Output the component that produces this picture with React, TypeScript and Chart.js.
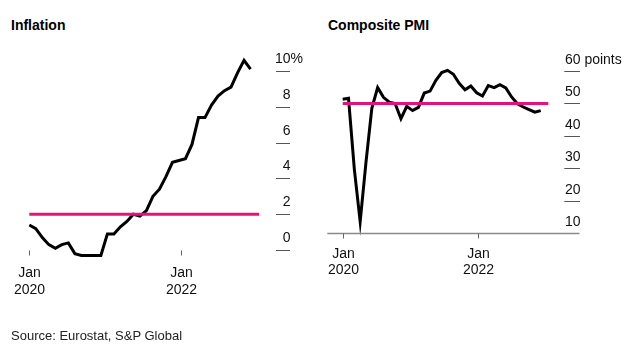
import React, { useEffect, useRef } from "react";
import { Chart, registerables } from "chart.js";

Chart.register(...registerables);

// ---- Data (monthly, Jan 2020 – Nov 2022) ----
const MONTHS = [
  "2020-01", "2020-02", "2020-03", "2020-04", "2020-05", "2020-06",
  "2020-07", "2020-08", "2020-09", "2020-10", "2020-11", "2020-12",
  "2021-01", "2021-02", "2021-03", "2021-04", "2021-05", "2021-06",
  "2021-07", "2021-08", "2021-09", "2021-10", "2021-11", "2021-12",
  "2022-01", "2022-02", "2022-03", "2022-04", "2022-05", "2022-06",
  "2022-07", "2022-08", "2022-09", "2022-10", "2022-11",
];

const INFLATION = [
  1.4, 1.2, 0.7, 0.3, 0.1, 0.3, 0.4, -0.2, -0.3, -0.3, -0.3, -0.3,
  0.9, 0.9, 1.3, 1.6, 2.0, 1.9, 2.2, 3.0, 3.4, 4.1, 4.9, 5.0,
  5.1, 5.9, 7.4, 7.4, 8.1, 8.6, 8.9, 9.1, 9.9, 10.6, 10.1,
];

const PMI = [
  51.3, 51.6, 29.7, 13.6, 31.9, 48.5, 54.9, 51.9, 50.4, 50.0, 45.3, 49.1,
  47.8, 48.8, 53.2, 53.8, 57.1, 59.5, 60.2, 59.0, 56.2, 54.2, 55.4, 53.3,
  52.3, 55.5, 54.9, 55.8, 54.8, 52.0, 49.9, 48.9, 48.1, 47.3, 47.8,
];

const INFLATION_TARGET = 2;
const PMI_THRESHOLD = 50;

const INFLATION_TICKS = [0, 2, 4, 6, 8, 10];
const PMI_TICKS = [10, 20, 30, 40, 50, 60];

const X_TICK_LABELS = [["Jan", "2020"], ["Jan", "2022"]];
const X_TICK_POSITIONS = [0, 23.25];
const X_MAX = 35.3;

const FONT = '"Liberation Sans", Arial, Helvetica, sans-serif';
const PINK = "#e4127f";
const INK = "#111111";

type AxesOpts = {
  yTicks: number[];
  suffix: string;
  tickX0: number;
  tickX1: number;
  labelRight: number;
  labelAbove: number;
  skipMarkAt?: number;
  baseValue: number;
  axisLine?: [number, number];
  xLabelBaselines: [number, number];
};

const customAxes = {
  id: "customAxes",
  afterDraw(chart: any, _args: any, opts: AxesOpts) {
    const { ctx } = chart;
    const xs = chart.scales.x;
    const ys = chart.scales.y;
    ctx.save();
    ctx.font = `14px ${FONT}`;
    ctx.textBaseline = "alphabetic";

    // y ticks: short marks with labels sitting above them
    const topTick = opts.yTicks[opts.yTicks.length - 1];
    opts.yTicks.forEach((v) => {
      const py = Math.round(ys.getPixelForValue(v)) + 0.5;
      if (opts.skipMarkAt !== v) {
        ctx.strokeStyle = "#555";
        ctx.lineWidth = 1;
        ctx.beginPath();
        ctx.moveTo(opts.tickX0, py);
        ctx.lineTo(opts.tickX1, py);
        ctx.stroke();
      }
      ctx.fillStyle = INK;
      ctx.textAlign = "right";
      ctx.fillText(String(v), opts.labelRight, py - opts.labelAbove);
      if (v === topTick && opts.suffix) {
        ctx.textAlign = "left";
        ctx.fillText(opts.suffix, opts.labelRight, py - opts.labelAbove);
      }
    });

    const baseY = Math.round(ys.getPixelForValue(opts.baseValue)) + 0.5;

    if (opts.axisLine) {
      ctx.strokeStyle = "#8a8a8a";
      ctx.lineWidth = 1.5;
      ctx.beginPath();
      ctx.moveTo(opts.axisLine[0], baseY);
      ctx.lineTo(opts.axisLine[1], baseY);
      ctx.stroke();
    }

    X_TICK_POSITIONS.forEach((pos, i) => {
      const px = Math.round(xs.getPixelForValue(pos)) + 0.5;
      ctx.strokeStyle = "#666";
      ctx.lineWidth = 1;
      ctx.beginPath();
      ctx.moveTo(px, baseY);
      ctx.lineTo(px, baseY + 5);
      ctx.stroke();
      ctx.fillStyle = INK;
      ctx.textAlign = "center";
      const [l1, l2] = X_TICK_LABELS[i];
      ctx.fillText(l1, px, baseY + opts.xLabelBaselines[0]);
      ctx.fillText(l2, px, baseY + opts.xLabelBaselines[1]);
    });
    ctx.restore();
  },
};

type PanelSpec = {
  values: number[];
  refValue: number;
  yMin: number;
  yMax: number;
  padding: { left: number; right: number; top: number; bottom: number };
  axes: AxesOpts;
};

function Panel({ left, width, spec }: { left: number; width: number; spec: PanelSpec }) {
  const ref = useRef<HTMLCanvasElement>(null);
  useEffect(() => {
    const series = spec.values.map((v, i) => ({ x: i, y: v }));
    const refLine = [
      { x: 0, y: spec.refValue },
      { x: X_MAX, y: spec.refValue },
    ];
    const chart = new Chart(ref.current!, {
      type: "line",
      data: {
        labels: MONTHS,
        datasets: [
          {
            data: refLine,
            borderColor: PINK,
            borderWidth: 3,
            pointRadius: 0,
            fill: false,
            clip: false,
          } as any,
          {
            data: series,
            borderColor: "#000",
            borderWidth: 3,
            pointRadius: 0,
            tension: 0,
            fill: false,
            clip: false,
          } as any,
        ],
      },
      options: {
        responsive: false,
        animation: false,
        devicePixelRatio: 1,
        layout: { padding: spec.padding },
        plugins: {
          legend: { display: false },
          tooltip: { enabled: false },
          title: { display: false },
          customAxes: spec.axes,
        } as any,
        scales: {
          x: { type: "linear", min: 0, max: X_MAX, display: false },
          y: { type: "linear", min: spec.yMin, max: spec.yMax, display: false },
        },
      },
      plugins: [customAxes as any],
    });
    return () => chart.destroy();
  }, []);
  return (
    <canvas
      ref={ref}
      width={width}
      height={351}
      style={{ position: "absolute", left, top: 0, width, height: 351 }}
    />
  );
}

const inflationSpec: PanelSpec = {
  values: INFLATION,
  refValue: INFLATION_TARGET,
  yMin: -0.5,
  yMax: 10.8,
  padding: { left: 29.3, right: 59, top: 56.7, bottom: 92 },
  axes: {
    yTicks: INFLATION_TICKS,
    suffix: "%",
    tickX0: 276,
    tickX1: 290,
    labelRight: 290.5,
    labelAbove: 9,
    baseValue: 0,
    xLabelBaselines: [26, 43],
  },
};

const pmiSpec: PanelSpec = {
  values: PMI,
  refValue: PMI_THRESHOLD,
  yMin: 10,
  yMax: 62,
  padding: { left: 24.7, right: 87.7, top: 64.5, bottom: 117.7 },
  axes: {
    yTicks: PMI_TICKS,
    suffix: " points",
    tickX0: 246.3,
    tickX1: 262,
    labelRight: 262.5,
    labelAbove: 8,
    skipMarkAt: 10,
    baseValue: 10,
    axisLine: [9.3, 261.5],
    xLabelBaselines: [24, 40],
  },
};

export default function App() {
  return (
    <div
      style={{
        position: "fixed",
        left: 0,
        top: 0,
        width: 636,
        height: 351,
        background: "#fff",
        overflow: "hidden",
        fontFamily: FONT,
      }}
    >
      <div
        style={{
          position: "absolute",
          left: 11,
          top: 17,
          fontSize: 14,
          lineHeight: "16px",
          fontWeight: 700,
          color: "#000",
        }}
      >
        Inflation
      </div>
      <div
        style={{
          position: "absolute",
          left: 328,
          top: 17,
          fontSize: 14,
          lineHeight: "16px",
          fontWeight: 700,
          color: "#000",
        }}
      >
        Composite PMI
      </div>
      <Panel left={0} width={318} spec={inflationSpec} />
      <Panel left={318} width={318} spec={pmiSpec} />
      <div
        style={{
          position: "absolute",
          left: 11,
          top: 328,
          fontSize: 13,
          lineHeight: "15px",
          color: "#222",
        }}
      >
        Source: Eurostat, S&amp;P Global
      </div>
    </div>
  );
}
